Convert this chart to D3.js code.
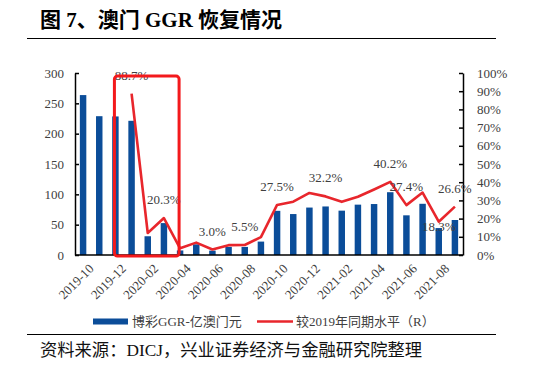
<!DOCTYPE html>
<html><head><meta charset="utf-8">
<script src="https://cdn.jsdelivr.net/npm/d3@7/dist/d3.min.js"></script>
<style>
body{margin:0;background:#fff;}
svg{display:block;}
text{font-family:"Liberation Serif","Noto Sans CJK SC",serif;}
</style></head>
<body><svg id="c" width="539" height="369"></svg>
<script>
const months = ["2019-10","2019-11","2019-12","2020-01","2020-02","2020-03","2020-04","2020-05","2020-06","2020-07","2020-08","2020-09","2020-10","2020-11","2020-12","2021-01","2021-02","2021-03","2021-04","2021-05","2021-06","2021-07","2021-08","2021-09"];
const ggr = [263.6,228.8,228.4,221.2,30.9,52.6,7.5,17.6,7.2,13.3,13.3,22.1,72.8,67.5,78.2,80.0,73.1,83.0,84.0,103.5,65.4,84.4,44.4,57.7];
const vs2019 = [null,null,null,88.7,12.1,20.3,3.7,6.8,3.0,5.4,5.5,9.8,27.5,29.3,34.1,32.2,29.2,32.0,36.0,40.2,27.4,34.3,18.3,26.6];
const labeledMonths = ["2020-01","2020-03","2020-06","2020-08","2020-10","2021-01","2021-05","2021-06","2021-08","2021-09"];
const belowLabels = ["2021-08"];
const xTickLabels = ["2019-10","2019-12","2020-02","2020-04","2020-06","2020-08","2020-10","2020-12","2021-02","2021-04","2021-06","2021-08"];
const leftTicks = [0,50,100,150,200,250,300];
const rightTicks = [0,10,20,30,40,50,60,70,80,90,100];
const highlight = ["2019-12","2020-04"];
const title = "图 7、澳门 GGR 恢复情况";
const legendBar = "博彩GGR-亿澳门元";
const legendLine = "较2019年同期水平（R）";
const source = "资料来源：DICJ，兴业证券经济与金融研究院整理";

const svg = d3.select("#c");
const L = 75, R = 463, T = 73, B = 255;
const x = d3.scaleBand().domain(months).range([L, R]).paddingInner(0.6).paddingOuter(0.3);
const yL = d3.scaleLinear().domain([0,300]).range([B,T]);
const yR = d3.scaleLinear().domain([0,100]).range([B,T]);
const cx = m => x(m) + x.bandwidth()/2;
const textCol = "#404040";

// title
svg.append("text").attr("x",40).attr("y",27).attr("font-size",21).attr("font-weight","bold").attr("fill","#000").text(title);
svg.append("line").attr("x1",27).attr("x2",496).attr("y1",38.5).attr("y2",38.5).attr("stroke","#000").attr("stroke-width",1);

// bars
svg.append("g").selectAll("rect").data(months).join("rect")
  .attr("x", m => x(m)).attr("width", x.bandwidth())
  .attr("y", (m,i) => yL(ggr[i])).attr("height", (m,i) => B - yL(ggr[i]))
  .attr("fill","#0b4d99");

// axes
const axL = svg.append("g").attr("transform",`translate(${L},0)`)
  .call(d3.axisLeft(yL).tickValues(leftTicks).tickSizeInner(-4).tickSizeOuter(0).tickPadding(11));
const axR = svg.append("g").attr("transform",`translate(${R},0)`)
  .call(d3.axisRight(yR).tickValues(rightTicks).tickFormat(d => d + "%").tickSizeInner(-4).tickSizeOuter(0).tickPadding(14));
const axB = svg.append("g").attr("transform",`translate(0,${B})`)
  .call(d3.axisBottom(x).tickValues(xTickLabels).tickSize(0).tickPadding(6));
[axL,axR,axB].forEach(a => {
  a.selectAll(".domain").attr("stroke","#000").attr("stroke-width",1.5);
  a.selectAll(".tick line").attr("stroke","#000").attr("stroke-width",1.5);
  a.selectAll("text").attr("font-size",13).attr("fill",textCol).attr("font-family","Liberation Serif");
});
axB.select(".domain").attr("d",`M${L},0H${R}`);
axB.selectAll("text").attr("text-anchor","end").attr("dy","0.35em")
  .attr("transform","translate(4,7) rotate(-45)");

// line
const pts = months.map((m,i) => ({m, v: vs2019[i]})).filter(d => d.v !== null);
svg.append("path").datum(pts)
  .attr("d", d3.line().x(d => cx(d.m)).y(d => yR(d.v)))
  .attr("fill","none").attr("stroke","#e8262c").attr("stroke-width",2.6).attr("stroke-linejoin","round");

// data labels
svg.append("g").selectAll("text").data(pts.filter(d => labeledMonths.includes(d.m))).join("text")
  .attr("x", d => cx(d.m)).attr("y", d => yR(d.v) + (belowLabels.includes(d.m) ? 9 : -14))
  .attr("text-anchor","middle").attr("font-size",13).attr("fill",textCol)
  .text(d => d.v.toFixed(1) + "%");

// highlight rectangle
svg.append("rect")
  .attr("x", cx(highlight[0]) - 1).attr("y", yR(98.3))
  .attr("width", cx(highlight[1]) - cx(highlight[0]))
  .attr("height", B + 1 - yR(98.3))
  .attr("rx",3).attr("fill","none").attr("stroke","#f3191c").attr("stroke-width",3);

// legend
svg.append("rect").attr("x",93).attr("y",318.5).attr("width",35).attr("height",6).attr("fill","#0b4d99");
svg.append("text").attr("x",132).attr("y",326).attr("font-size",13).attr("fill",textCol).text(legendBar);
svg.append("line").attr("x1",257).attr("x2",293).attr("y1",321.5).attr("y2",321.5).attr("stroke","#e8262c").attr("stroke-width",2.6);
svg.append("text").attr("x",296).attr("y",326).attr("font-size",13).attr("fill",textCol).text(legendLine);

// source
svg.append("line").attr("x1",27).attr("x2",496).attr("y1",334.5).attr("y2",334.5).attr("stroke","#000").attr("stroke-width",1);
svg.append("text").attr("x",40).attr("y",356).attr("font-size",17.3).attr("fill","#111").text(source);
</script></body></html>
